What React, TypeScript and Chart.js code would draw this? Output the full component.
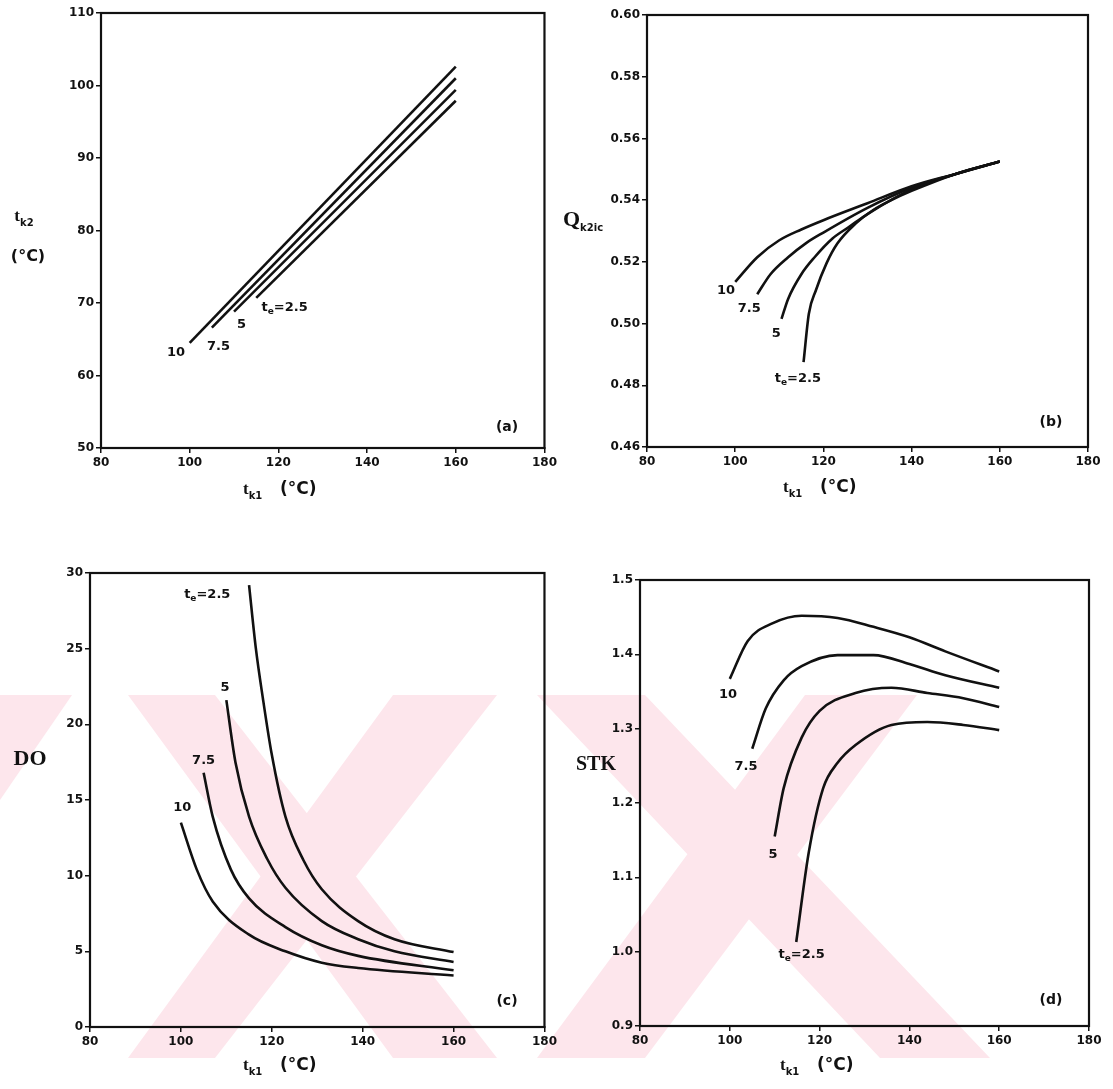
import React, { useEffect, useRef } from "react";
import { Chart, registerables } from "chart.js";

Chart.register(...registerables);

const INK = "#111";
const PINK = "#fde6ec";

// t_e values of the four curves in every panel
const TE_LEVELS = ["10", "7.5", "5", "2.5"];
const X_TICKS = [80, 100, 120, 140, 160, 180];

// (a) t_k2 against t_k1
const aX10 = [100, 160];
const aY10 = [64.5, 102.6];
const aX75 = [105, 160];
const aY75 = [66.6, 101.0];
const aX5 = [110, 160];
const aY5 = [68.8, 99.4];
const aX25 = [115, 160];
const aY25 = [70.7, 97.9];
const aYTicks = [50, 60, 70, 80, 90, 100, 110];

// (b) Q_k2ic against t_k1
const bX10 = [100, 105, 110, 115, 120, 130, 140, 150, 160];
const bY10 = [0.5135, 0.5215, 0.527, 0.5305, 0.5335, 0.539, 0.5445, 0.5485, 0.5525];
const bX75 = [105, 108, 112, 116, 120, 130, 140, 150, 160];
const bY75 = [0.5095, 0.516, 0.5215, 0.526, 0.5295, 0.5375, 0.544, 0.5485, 0.5525];
const bX5 = [110.5, 112, 115, 118, 122, 126, 130, 140, 150, 160];
const bY5 = [0.5015, 0.508, 0.516, 0.5215, 0.5275, 0.5315, 0.5355, 0.5435, 0.5485, 0.5525];
const bX25 = [115.5, 116.7, 118.3, 120.7, 123.2, 127.3, 131.3, 135.4, 140, 150, 160];
const bY25 = [0.4875, 0.5032, 0.5108, 0.5195, 0.526, 0.5324, 0.5368, 0.54, 0.543, 0.5485, 0.5525];
const bYTicks = [0.46, 0.48, 0.5, 0.52, 0.54, 0.56, 0.58, 0.6];

// (c) DO against t_k1
const cX10 = [100, 103.5, 107, 115, 123, 131, 139, 160];
const cY10 = [13.5, 10.4, 8.3, 6.1, 5.0, 4.25, 3.9, 3.4];
const cX75 = [105, 107, 111, 115, 123, 131, 139, 160];
const cY75 = [16.8, 13.9, 10.4, 8.5, 6.6, 5.4, 4.7, 3.75];
const cX5 = [110, 112, 115, 119, 123, 131, 139, 147, 160];
const cY5 = [21.6, 17.5, 13.9, 11.1, 9.2, 7.0, 5.8, 5.0, 4.3];
const cX25 = [115, 116.5, 118, 120, 123, 127, 131, 139, 147, 160];
const cY25 = [29.2, 25.0, 21.8, 18.0, 13.9, 11.0, 9.1, 7.0, 5.8, 4.95];
const cYTicks = [0, 5, 10, 15, 20, 25, 30];

// (d) STK against t_k1
const dX10 = [100, 104, 109.6, 116, 124, 132, 140, 148, 160];
const dY10 = [1.367, 1.418, 1.442, 1.452, 1.449, 1.437, 1.423, 1.404, 1.377];
const dX75 = [105, 108, 112, 116, 124, 132, 140, 148, 160];
const dY75 = [1.273, 1.327, 1.365, 1.384, 1.399, 1.399, 1.387, 1.372, 1.355];
const dX5 = [110, 112, 116, 120, 128, 136, 144, 152, 160];
const dY5 = [1.155, 1.22, 1.288, 1.324, 1.348, 1.355, 1.348, 1.341, 1.329];
const dX25 = [114.8, 117.6, 120.8, 124, 128, 136, 144, 152, 160];
const dY25 = [1.013, 1.134, 1.22, 1.254, 1.278, 1.305, 1.309, 1.305, 1.298];
const dYTicks = [0.9, 1.0, 1.1, 1.2, 1.3, 1.4, 1.5];

// curve label anchors (data coordinates), in TE_LEVELS order
const aLabelAt = [[96.9, 63.1], [106.5, 64.0], [111.7, 67.0], [121.4, 69.3]];
const bLabelAt = [[97.9, 0.5108], [103.2, 0.5049], [109.3, 0.4968], [114.2, 0.4822]];
const cLabelAt = [[100.3, 14.5], [105.0, 17.6], [109.7, 22.4], [105.8, 28.6]];
const dLabelAt = [[99.6, 1.346], [103.6, 1.249], [109.6, 1.131], [116.0, 0.996]];

type Part = { text: string; font: string; dy?: number };
type PlacedText = { parts: Part[]; x: number; y: number; align: "left" | "center" };
type Series = { x: number[]; y: number[] };

const SANS = "'DejaVu Sans', sans-serif";
const SERIF = "'Liberation Serif', 'DejaVu Serif', serif";
const TICK_FONT = { family: SANS, size: 12, weight: "bold" as const };

const curveLabel = (level: string): Part[] =>
  level === "2.5"
    ? [
        { text: "t", font: `bold 13px ${SANS}` },
        { text: "e", font: `bold 9px ${SANS}`, dy: 4 },
        { text: "=2.5", font: `bold 13px ${SANS}` },
      ]
    : [{ text: level, font: `bold 13px ${SANS}` }];

const xTitle = (x: number, y: number): PlacedText => ({
  x,
  y,
  align: "left",
  parts: [
    { text: "t", font: `bold 17px ${SERIF}` },
    { text: "k1", font: `bold 10px ${SANS}`, dy: 6 },
    { text: "   (°C)", font: `bold 17px ${SANS}` },
  ],
});

type PanelSpec = {
  left: number;
  top: number;
  width: number;
  height: number;
  plot: { l: number; t: number; r: number; b: number };
  yMin: number;
  yMax: number;
  yTicks: number[];
  yDecimals: number;
  series: Series[];
  labelAt: number[][];
  texts: PlacedText[];
};

const PANELS: PanelSpec[] = [
  {
    left: 0, top: 0, width: 560, height: 545,
    plot: { l: 101, t: 13, r: 546, b: 448 },
    yMin: 50, yMax: 110, yTicks: aYTicks, yDecimals: 0,
    series: [
      { x: aX10, y: aY10 }, { x: aX75, y: aY75 }, { x: aX5, y: aY5 }, { x: aX25, y: aY25 },
    ],
    labelAt: aLabelAt,
    texts: [
      { x: 24, y: 217, align: "center", parts: [
        { text: "t", font: `bold 17px ${SERIF}` },
        { text: "k2", font: `bold 10px ${SANS}`, dy: 6 },
      ] },
      { x: 28, y: 257, align: "center", parts: [{ text: "(°C)", font: `bold 16px ${SANS}` }] },
      xTitle(243, 490),
      { x: 507, y: 427, align: "center", parts: [{ text: "(a)", font: `bold 14px ${SANS}` }] },
    ],
  },
  {
    left: 550, top: 0, width: 563, height: 545,
    plot: { l: 647, t: 15, r: 1088, b: 447 },
    yMin: 0.46, yMax: 0.6, yTicks: bYTicks, yDecimals: 2,
    series: [
      { x: bX10, y: bY10 }, { x: bX75, y: bY75 }, { x: bX5, y: bY5 }, { x: bX25, y: bY25 },
    ],
    labelAt: bLabelAt,
    texts: [
      { x: 563, y: 220, align: "left", parts: [
        { text: "Q", font: `bold 22px ${SERIF}` },
        { text: "k2ic", font: `bold 10px ${SANS}`, dy: 8 },
      ] },
      xTitle(783, 488),
      { x: 1051, y: 422, align: "center", parts: [{ text: "(b)", font: `bold 14px ${SANS}` }] },
    ],
  },
  {
    left: 0, top: 545, width: 560, height: 544,
    plot: { l: 90, t: 573, r: 546, b: 1027 },
    yMin: 0, yMax: 30, yTicks: cYTicks, yDecimals: 0,
    series: [
      { x: cX10, y: cY10 }, { x: cX75, y: cY75 }, { x: cX5, y: cY5 }, { x: cX25, y: cY25 },
    ],
    labelAt: cLabelAt,
    texts: [
      { x: 30, y: 759, align: "center", parts: [{ text: "DO", font: `bold 22px ${SERIF}` }] },
      xTitle(243, 1066),
      { x: 507, y: 1001, align: "center", parts: [{ text: "(c)", font: `bold 14px ${SANS}` }] },
    ],
  },
  {
    left: 550, top: 545, width: 563, height: 544,
    plot: { l: 640, t: 580, r: 1089, b: 1026 },
    yMin: 0.9, yMax: 1.5, yTicks: dYTicks, yDecimals: 1,
    series: [
      { x: dX10, y: dY10 }, { x: dX75, y: dY75 }, { x: dX5, y: dY5 }, { x: dX25, y: dY25 },
    ],
    labelAt: dLabelAt,
    texts: [
      { x: 596, y: 765, align: "center", parts: [{ text: "STK", font: `bold 20px ${SERIF}` }] },
      xTitle(780, 1066),
      { x: 1051, y: 1000, align: "center", parts: [{ text: "(d)", font: `bold 14px ${SANS}` }] },
    ],
  },
];

function drawParts(ctx: CanvasRenderingContext2D, parts: Part[], x: number, y: number, align: string) {
  let total = 0;
  for (const p of parts) {
    ctx.font = p.font;
    total += ctx.measureText(p.text).width;
  }
  let cx = align === "center" ? x - total / 2 : x;
  ctx.textAlign = "left";
  ctx.textBaseline = "middle";
  ctx.fillStyle = INK;
  for (const p of parts) {
    ctx.font = p.font;
    ctx.fillText(p.text, cx, y + (p.dy || 0));
    cx += ctx.measureText(p.text).width;
  }
}

const panelDecor = {
  id: "panelDecor",
  afterDatasetsDraw(chart: any, _args: any, opts: any) {
    const ctx: CanvasRenderingContext2D = chart.ctx;
    const { left, top, right, bottom } = chart.chartArea;
    ctx.save();
    ctx.strokeStyle = INK;
    ctx.lineWidth = 2.2;
    ctx.strokeRect(left, top, right - left, bottom - top);
    const xs = chart.scales.x;
    const ys = chart.scales.y;
    (opts.labelAt as number[][]).forEach((pt, i) => {
      drawParts(ctx, curveLabel(TE_LEVELS[i]), xs.getPixelForValue(pt[0]), ys.getPixelForValue(pt[1]), "center");
    });
    (opts.texts as PlacedText[]).forEach((t) => {
      drawParts(ctx, t.parts, t.x - opts.originX, t.y - opts.originY, t.align);
    });
    ctx.restore();
  },
};

function Panel({ spec }: { spec: PanelSpec }) {
  const ref = useRef<HTMLCanvasElement>(null);
  useEffect(() => {
    const canvas = ref.current;
    if (!canvas) return;
    const leftM = spec.plot.l - spec.left;
    const padTop = spec.plot.t - spec.top;
    const padRight = spec.left + spec.width - spec.plot.r;
    const bottomM = spec.top + spec.height - spec.plot.b;
    const chart = new Chart(canvas, {
      type: "scatter",
      data: {
        datasets: spec.series.map((s, i) => ({
          label: TE_LEVELS[i],
          data: s.x.map((x, k) => ({ x, y: s.y[k] })),
          showLine: true,
          borderColor: INK,
          borderWidth: 2.6,
          pointRadius: 0,
          fill: false,
          cubicInterpolationMode: "monotone" as const,
        })),
      },
      options: {
        responsive: false,
        animation: false,
        events: [],
        layout: { padding: { top: padTop, right: padRight, left: 0, bottom: 0 } },
        plugins: {
          legend: { display: false },
          tooltip: { enabled: false },
          panelDecor: {
            labelAt: spec.labelAt,
            texts: spec.texts,
            originX: spec.left,
            originY: spec.top,
          },
        } as any,
        scales: {
          x: {
            type: "linear",
            min: 80,
            max: 180,
            afterBuildTicks: (s: any) => {
              s.ticks = X_TICKS.map((v) => ({ value: v }));
            },
            afterFit: (s: any) => {
              s.height = bottomM;
            },
            ticks: {
              color: INK,
              font: TICK_FONT,
              padding: 3,
              maxRotation: 0,
              autoSkip: false,
              callback: (v: any) => String(v),
            },
            grid: { drawOnChartArea: false, drawTicks: true, tickLength: 5, color: INK, lineWidth: 1.5 },
            border: { display: true, color: INK, width: 2 },
          },
          y: {
            type: "linear",
            min: spec.yMin,
            max: spec.yMax,
            afterBuildTicks: (s: any) => {
              s.ticks = spec.yTicks.map((v) => ({ value: v }));
            },
            afterFit: (s: any) => {
              s.width = leftM;
            },
            ticks: {
              color: INK,
              font: TICK_FONT,
              padding: 2,
              autoSkip: false,
              callback: (v: any) => Number(v).toFixed(spec.yDecimals),
            },
            grid: { drawOnChartArea: false, drawTicks: true, tickLength: 5, color: INK, lineWidth: 1.5 },
            border: { display: true, color: INK, width: 2 },
          },
        },
      },
      plugins: [panelDecor],
    });
    return () => chart.destroy();
  }, [spec]);
  return (
    <canvas
      ref={ref}
      width={spec.width}
      height={spec.height}
      style={{ position: "absolute", left: spec.left, top: spec.top, width: spec.width, height: spec.height }}
    />
  );
}

// light background stamp behind the lower panels: two broad crossed bands and a corner piece
const STAMP: number[][][] = [
  [[0, 695], [72, 695], [0, 800]],
  [[128, 695], [215, 695], [497, 1058], [393, 1058]],
  [[393, 695], [497, 695], [215, 1058], [128, 1058]],
  [[537, 695], [645, 695], [990, 1058], [880, 1058]],
  [[805, 695], [917, 695], [645, 1058], [537, 1058]],
];

export default function App() {
  return (
    <div style={{ position: "absolute", left: 0, top: 0, width: 1113, height: 1089, background: "#fff", overflow: "hidden" }}>
      <svg width={1113} height={1089} style={{ position: "absolute", left: 0, top: 0 }}>
        {STAMP.map((poly, i) => (
          <polygon key={i} points={poly.map((p) => p.join(",")).join(" ")} fill={PINK} />
        ))}
      </svg>
      {PANELS.map((p, i) => (
        <Panel key={i} spec={p} />
      ))}
    </div>
  );
}
